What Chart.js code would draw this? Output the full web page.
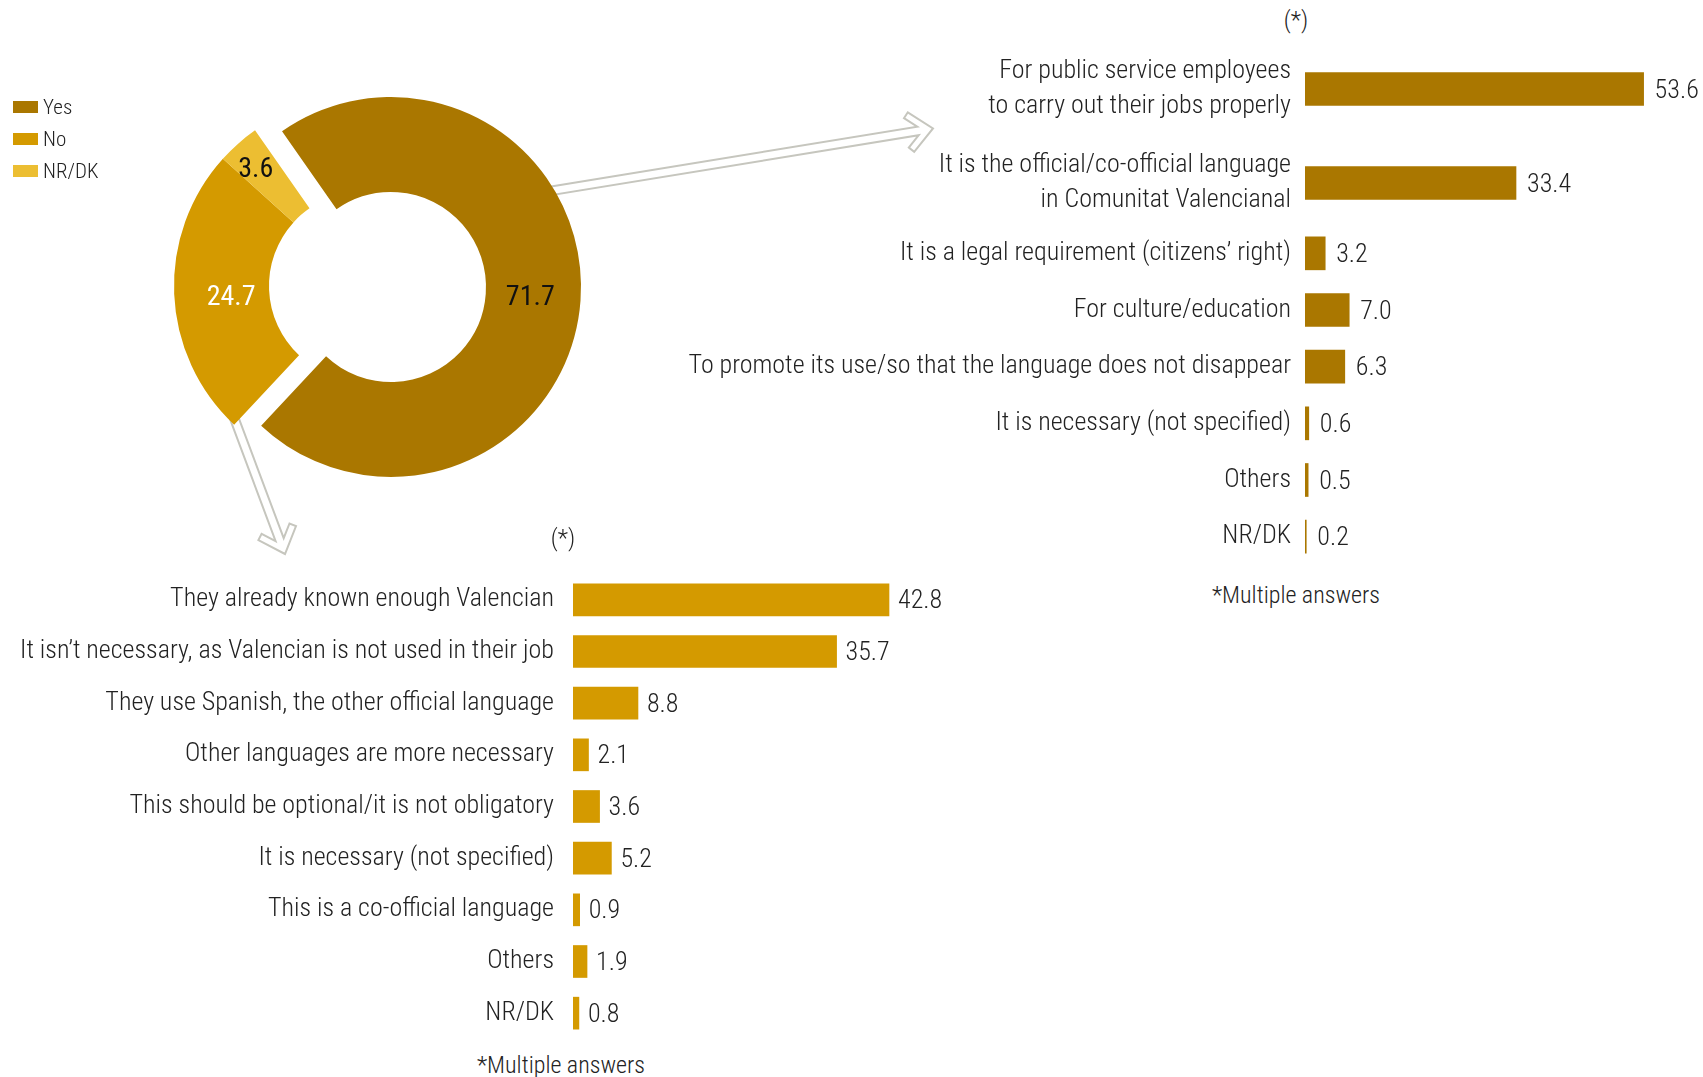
<!DOCTYPE html>
<html>
<head>
<meta charset="utf-8">
<script src="https://cdn.jsdelivr.net/npm/chart.js@4.4.1/dist/chart.umd.min.js"></script>
<style>
  html, body { margin: 0; padding: 0; background: #fff; }
  body { width: 1703px; height: 1077px; position: relative; overflow: hidden;
         font-family: 'Roboto Condensed', Roboto, sans-serif; font-weight: 300; color: #222; }
  canvas { position: absolute; }
  svg { position: absolute; left: 0; top: 0; }
  .note { position: absolute; font-size: 24px; line-height: 1; white-space: nowrap;
          transform: translate(-50%, -50%); }
  .lg-sw { position: absolute; width: 25px; height: 12px; }
  .lg-tx { position: absolute; font-size: 21px; line-height: 1; transform: translateY(-50%); }
</style>
</head>
<body>
<svg id="arrows" width="1703" height="1077"></svg>
<canvas id="donutOthers" width="728" height="572" style="left:0;top:0"></canvas>
<canvas id="donutYes" width="728" height="572" style="left:27px;top:1px"></canvas>
<canvas id="yesTop" width="1103" height="188" style="left:600px;top:42px"></canvas>
<canvas id="yesRest" width="1103" height="340" style="left:600px;top:225px"></canvas>
<canvas id="noChart" width="1016" height="465" style="left:0;top:574px"></canvas>

<div class="note" style="left:1296px;top:20px">(*)</div>
<div class="note" style="left:1296px;top:595px">*Multiple answers</div>
<div class="note" style="left:563px;top:538px">(*)</div>
<div class="note" style="left:561px;top:1065px">*Multiple answers</div>
<div id="legend"></div>

<script>
// --- data ---
const shareLabels = ["Yes", "No", "NR/DK"];
const shareValues = [71.7, 24.7, 3.6];

const yesReasonLabels = [
  ["For public service employees", "to carry out their jobs properly"],
  ["It is the official/co-official language", "in Comunitat Valencianal"],
  "It is a legal requirement (citizens’ right)",
  "For culture/education",
  "To promote its use/so that the language does not disappear",
  "It is necessary (not specified)",
  "Others",
  "NR/DK"
];
const yesReasonValues = [53.6, 33.4, 3.2, 7.0, 6.3, 0.6, 0.5, 0.2];

const noReasonLabels = [
  "They already known enough Valencian",
  "It isn’t necessary, as Valencian is not used in their job",
  "They use Spanish, the other official language",
  "Other languages are more necessary",
  "This should be optional/it is not obligatory",
  "It is necessary (not specified)",
  "This is a co-official language",
  "Others",
  "NR/DK"
];
const noReasonValues = [42.8, 35.7, 8.8, 2.1, 3.6, 5.2, 0.9, 1.9, 0.8];

// --- styles ---
const shareColors = ["#AA7700", "#D49A00", "#ECBE32"];
const FONT = "'Roboto Condensed', Roboto, sans-serif";
const TEXT = "#222";

Chart.defaults.font.family = FONT;
Chart.defaults.devicePixelRatio = 1;

// legend
const legend = document.getElementById("legend");
shareLabels.forEach((lab, i) => {
  const sw = document.createElement("div");
  sw.className = "lg-sw";
  sw.style.left = "13px";
  sw.style.top = (101 + 32 * i) + "px";
  sw.style.background = shareColors[i];
  legend.appendChild(sw);
  const tx = document.createElement("div");
  tx.className = "lg-tx";
  tx.style.left = "43px";
  tx.style.top = (107 + 32 * i) + "px";
  tx.textContent = lab;
  legend.appendChild(tx);
});

// --- doughnut: two overlaid copies so the "Yes" slice sits pulled out ---
const donutLabels = {
  id: "donutLabels",
  afterDatasetsDraw(chart, args, opts) {
    const { ctx } = chart;
    chart.getDatasetMeta(0).data.forEach((arc, i) => {
      if (!opts.show.includes(i)) return;
      const p = arc.getProps(["x", "y", "startAngle", "endAngle", "innerRadius", "outerRadius"], true);
      const mid = (p.startAngle + p.endAngle) / 2;
      const r = p.innerRadius + (p.outerRadius - p.innerRadius) * opts.radial[i];
      ctx.save();
      ctx.font = "400 28px " + FONT;
      ctx.fillStyle = opts.colors[i];
      ctx.textAlign = "center";
      ctx.textBaseline = "middle";
      ctx.fillText(shareValues[i].toFixed(1), p.x + Math.cos(mid) * r, p.y + Math.sin(mid) * r + opts.dy[i]);
      ctx.restore();
    });
  }
};

function makeDonut(id, show) {
  return new Chart(document.getElementById(id), {
    type: "doughnut",
    data: {
      labels: shareLabels,
      datasets: [{
        data: shareValues,
        backgroundColor: shareColors.map((c, i) => show.includes(i) ? c : "rgba(0,0,0,0)"),
        borderWidth: 0
      }]
    },
    options: {
      responsive: false,
      animation: false,
      radius: 190,
      cutout: "50%",
      rotation: -35,
      events: [],
      plugins: {
        legend: { display: false },
        tooltip: { enabled: false },
        donutLabels: { show, radial: [0.47, 0.4, 0.72], dy: [1, 6, 6], colors: ["#111", "#fff", "#111"] }
      }
    },
    plugins: [donutLabels]
  });
}
makeDonut("donutOthers", [1, 2]);
makeDonut("donutYes", [0]);

// --- bar charts ---
const valueLabels = {
  id: "valueLabels",
  afterDatasetsDraw(chart, args, opts) {
    const { ctx } = chart;
    const vals = chart.data.datasets[0].data;
    ctx.save();
    ctx.font = "300 26px " + FONT;
    ctx.fillStyle = TEXT;
    ctx.textAlign = "left";
    ctx.textBaseline = "middle";
    chart.getDatasetMeta(0).data.forEach((bar, i) => {
      ctx.fillText(vals[i].toFixed(1), bar.x + opts.gap, bar.y + 2);
    });
    ctx.restore();
  }
};

function makeBars(id, labels, values, color, o) {
  return new Chart(document.getElementById(id), {
    type: "bar",
    data: {
      labels,
      datasets: [{ data: values, backgroundColor: color, barThickness: o.thickness, borderWidth: 0 }]
    },
    options: {
      indexAxis: "y",
      responsive: false,
      animation: false,
      events: [],
      plugins: {
        legend: { display: false },
        tooltip: { enabled: false },
        valueLabels: { gap: o.gap }
      },
      scales: {
        x: { display: false, min: 0, max: o.max },
        y: {
          // fixed label column; labels sit inside the category bands, so no overhang padding
          afterFit: (s) => { s.width = o.axisWidth; s.paddingTop = 0; s.paddingBottom = 0; },
          grid: { display: false, drawTicks: false },
          border: { display: false },
          ticks: {
            autoSkip: false,
            padding: o.pad,
            color: TEXT,
            font: { size: 26, weight: "300", lineHeight: 35 / 26 }
          }
        }
      }
    },
    plugins: [valueLabels]
  });
}

const yesOpts = { thickness: 33, gap: 11, max: 63, axisWidth: 705, pad: 14 };
makeBars("yesTop", yesReasonLabels.slice(0, 2), yesReasonValues.slice(0, 2), shareColors[0], yesOpts);
makeBars("yesRest", yesReasonLabels.slice(2), yesReasonValues.slice(2), shareColors[0], yesOpts);
makeBars("noChart", noReasonLabels, noReasonValues, shareColors[1],
  { thickness: 32, gap: 9, max: 60, axisWidth: 573, pad: 19 });

// --- hollow arrows from the doughnut to the breakdowns ---
function arrowPath(tail, tip) {
  const w = 4.3, L = 30, th = 42 * Math.PI / 180, t = 7;
  const dx = tip[0] - tail[0], dy = tip[1] - tail[1];
  const len = Math.hypot(dx, dy);
  const u = [dx / len, dy / len], v = [-u[1], u[0]];
  const P = (x, y) => [tip[0] + x * u[0] + y * v[0], tip[1] + x * u[1] + y * v[1]];
  const c = Math.cos(th), s = Math.sin(th);
  const sj = (w + t * c) / s;
  const xj = -sj * c - t * s;
  const ox = -L * c, oy = L * s;
  const pts = [
    P(-len, -w), P(xj, -w), P(ox - t * s, -oy + t * c), P(ox, -oy), P(0, 0),
    P(ox, oy), P(ox - t * s, oy - t * c), P(xj, w), P(-len, w)
  ];
  return "M" + pts.map(p => p[0].toFixed(1) + "," + p[1].toFixed(1)).join(" L") + " Z";
}
const svg = document.getElementById("arrows");
[[[535, 193.5], [933, 128.5]], [[228.7, 403.4], [285, 554]]].forEach(([a, b]) => {
  const p = document.createElementNS("http://www.w3.org/2000/svg", "path");
  p.setAttribute("d", arrowPath(a, b));
  p.setAttribute("fill", "#fff");
  p.setAttribute("stroke", "#C6C6BE");
  p.setAttribute("stroke-width", "2");
  p.setAttribute("stroke-linejoin", "miter");
  svg.appendChild(p);
});
</script>
</body>
</html>
